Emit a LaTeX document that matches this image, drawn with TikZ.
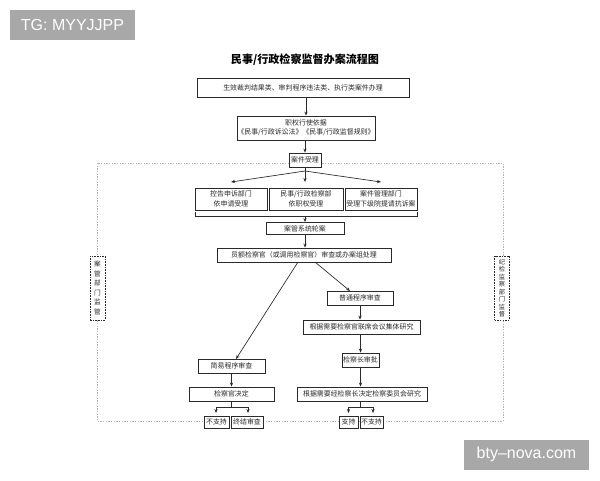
\documentclass[tikz,border=0pt]{standalone}
\usepackage{fontspec}
\setmainfont{Liberation Sans}
\newfontfamily\cjk{Noto Sans CJK SC}
\usetikzlibrary{arrows.meta}
\def\u{0.75pt}
\definecolor{wmgray}{HTML}{A8A8A8}
\definecolor{ink}{HTML}{2A2A2A}
\tikzset{
  box/.style={draw=ink, line width=0.6pt, fill=white, inner sep=0pt, align=center,
    font=\cjk\fontsize{5.2}{7}\selectfont, text=ink},
  arr/.style={-{Stealth[length=3pt,width=2.4pt]}, line width=0.5pt, draw=ink},
  ln/.style={line width=0.5pt, draw=ink},
  sidebox/.style={box, dash pattern=on 1.2pt off 0.8pt, minimum width=15*\u, minimum height=64*\u},
  wm/.style={fill=wmgray, text=white, inner sep=0pt, font=\fontsize{12}{14}\selectfont,
    minimum width=125*\u, minimum height=30*\u},
  frame/.style={draw=black!30, line width=0.6pt, dash pattern=on 1pt off 1pt}
}
\begin{document}
\begin{tikzpicture}[x=0.75pt,y=-0.75pt]
\useasboundingbox (0,0) rectangle (600,480);
\fill[white] (0,0) rectangle (600,480);

% watermarks
\node[wm] (wm1) at (72.5,25) {TG: MYYJJPP};
\node[wm] (wm2) at (526.5,454.5) {bty–nova.com};

% title
\node[font=\cjk\bfseries\fontsize{8.3}{10}\selectfont, text=black] (title) at (305,60) {民事/行政检察监督办案流程图};

% dotted supervision frame
\draw[frame] (97,163) rectangle (503,421);

% boxes
\node[box, minimum width=212*\u, minimum height=19*\u] (b1) at (303,87.5) {生效裁判结果类、审判程序违法类、执行类案件办理};
\node[box, minimum width=138*\u, minimum height=24*\u] (b2) at (306,128) {职权行使依据\\《民事/行政诉讼法》《民事/行政监督规则》};
\node[box, minimum width=32*\u, minimum height=14*\u] (b3) at (305,160) {案件受理};
\node[box, minimum width=72*\u, minimum height=22*\u] (bA) at (231,199) {控告申诉部门\\依申请受理};
\node[box, minimum width=74*\u, minimum height=22*\u] (bB) at (306,199) {民事/行政检察部\\依职权受理};
\node[box, minimum width=72*\u, minimum height=22*\u] (bC) at (381,199) {案件管理部门\\受理下级院提请抗诉案};
\node[box, minimum width=78*\u, minimum height=12*\u] (bD) at (305,228.5) {案管系统轮案};
\node[box, minimum width=174*\u, minimum height=14*\u] (bE) at (304,255) {员额检察官（或调用检察官）审查或办案组处理};
\node[box, minimum width=66*\u, minimum height=14*\u] (bP) at (360,298) {普通程序审查};
\node[box, minimum width=117*\u, minimum height=14*\u] (bJ) at (361.5,327) {根据需要检察官联席会议集体研究};
\node[box, minimum width=37*\u, minimum height=14*\u] (bK) at (360.5,360) {检察长审批};
\node[box, minimum width=67*\u, minimum height=14*\u] (bS) at (231.5,366) {简易程序审查};
\node[box, minimum width=85*\u, minimum height=14*\u] (bG) at (231.5,394) {检察官决定};
\node[box, minimum width=130*\u, minimum height=14*\u] (bW) at (362,394) {根据需要经检察长决定检察委员会研究};
\node[box, minimum width=25*\u, minimum height=12*\u] (n1) at (216.5,422) {不支持};
\node[box, minimum width=32*\u, minimum height=12*\u] (n2) at (247,422) {终结审查};
\node[box, minimum width=19*\u, minimum height=12*\u] (n3) at (348.5,422) {支持};
\node[box, minimum width=23*\u, minimum height=12*\u] (n4) at (371.5,422) {不支持};

% side supervision boxes
\node[sidebox, font=\cjk\fontsize{5}{7.2}\selectfont] (sL) at (97.5,288) {案\\管\\部\\门\\监\\管};
\node[sidebox, font=\cjk\fontsize{4.7}{5.6}\selectfont] (sR) at (502,288) {纪\\检\\监\\察\\部\\门\\监\\督};

% connectors
\draw[arr] (b2.north |- b1.south) -- (b2.north);
\draw[arr] (b3.north |- b2.south) -- (b3.north);

\coordinate (f0) at (305,171);
\coordinate (fA) at (231,182);
\coordinate (fB) at (305,182);
\coordinate (fC) at (381,182);
\draw[ln] (b3.south) -- (f0);
\draw[arr] (f0) -- (fA);
\draw[arr] (f0) -- (fB);
\draw[arr] (f0) -- (fC);

\coordinate (k1) at (195,212);
\coordinate (k2) at (195,216);
\coordinate (k3) at (417,216);
\coordinate (k4) at (417,212);
\coordinate (km) at (305,216);
\draw[ln] (k1) -- (k2) -- (k3) -- (k4);
\draw[arr] (km) -- (bD.north);
\draw[arr] (bD.south) -- (bD.south |- bE.north);

\coordinate (e1) at (298,262);
\coordinate (e2) at (315,262);
\coordinate (s1) at (236,359);
\coordinate (p1) at (350,291);
\draw[arr] (e1) -- (s1);
\draw[arr] (e2) -- (p1);

\draw[arr] (bP.south) -- (bP.south |- bJ.north);
\draw[arr] (bK.north |- bJ.south) -- (bK.north);
\draw[arr] (bK.south) -- (bK.south |- bW.north);
\draw[arr] (bS.south) -- (bG.north);

% split under 检察官决定
\coordinate (g0) at (231.5,407);
\coordinate (gL) at (216,407);
\coordinate (gR) at (248,407);
\coordinate (gLe) at (216,413);
\coordinate (gRe) at (248,413);
\draw[ln] (bG.south) -- (g0);
\draw[ln] (gL) -- (gR);
\draw[arr] (gL) -- (gLe);
\draw[arr] (gR) -- (gRe);

% split under 检察委员会
\coordinate (w0) at (360.5,407);
\coordinate (wL) at (348.5,407);
\coordinate (wR) at (373,407);
\coordinate (wLe) at (348.5,413);
\coordinate (wRe) at (373,413);
\draw[ln] (bW.south -| w0) -- (w0);
\draw[ln] (wL) -- (wR);
\draw[arr] (wL) -- (wLe);
\draw[arr] (wR) -- (wRe);
\end{tikzpicture}
\end{document}
